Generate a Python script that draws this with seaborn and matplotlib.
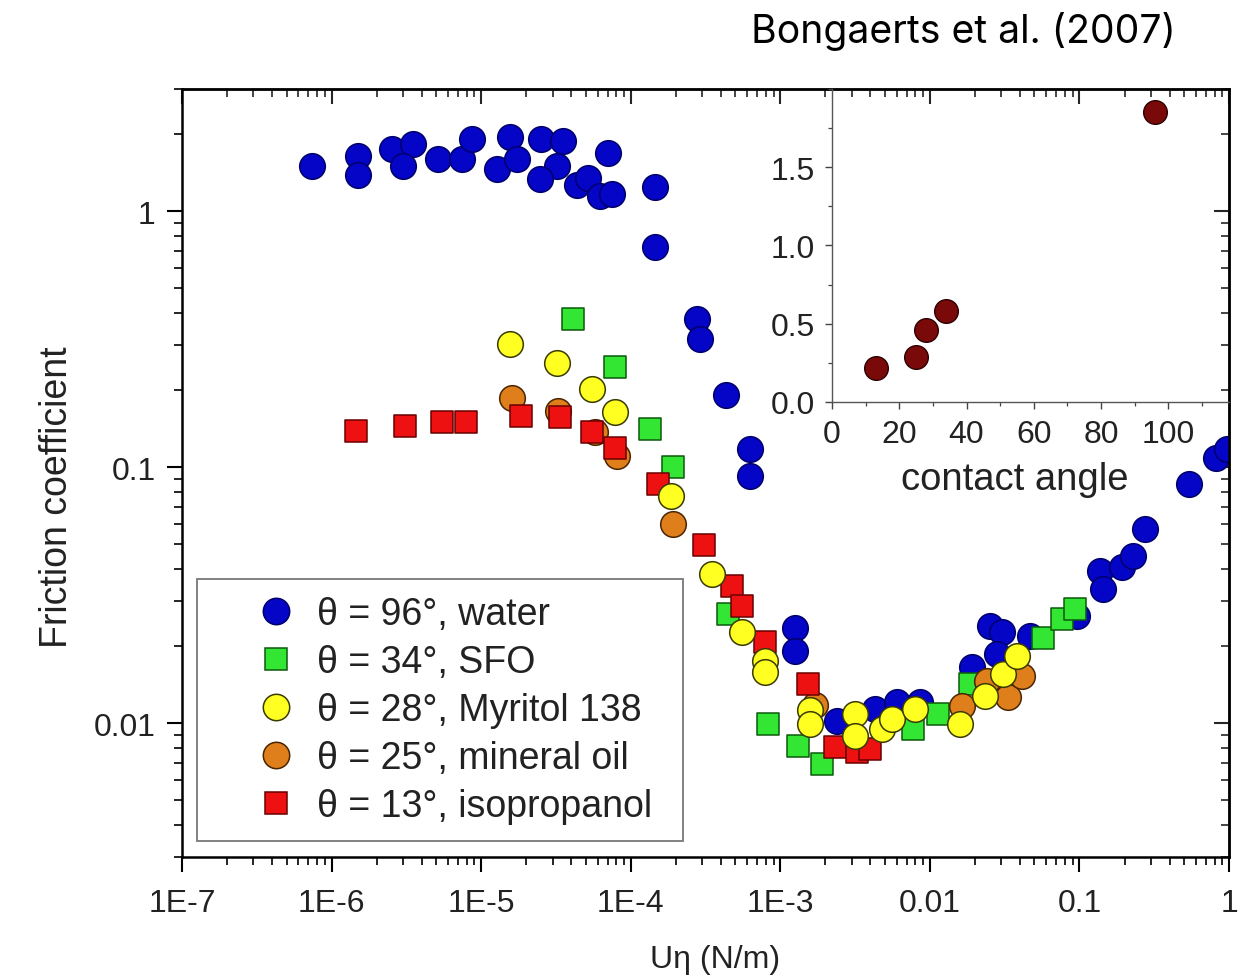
import numpy as np
import pandas as pd
import matplotlib
matplotlib.use("Agg")
import matplotlib.pyplot as plt
import seaborn as sns
from matplotlib.ticker import LogLocator, NullFormatter, FixedLocator, MultipleLocator
from matplotlib.lines import Line2D

# ---------------- data ----------------
water_x = [7.36e-7, 1.49e-6, 1.51e-6, 2.52e-6, 3.52e-6, 2.98e-6, 5.16e-6, 7.41e-6, 8.65e-6, 1.27e-5,
           1.56e-5, 1.74e-5, 2.51e-5, 3.54e-5, 3.20e-5, 2.47e-5, 4.35e-5, 5.20e-5, 6.22e-5, 7.44e-5,
           7.08e-5, 1.45e-4, 1.45e-4, 2.76e-4, 2.90e-4, 4.33e-4, 6.27e-4, 6.27e-4, 1.25e-3, 1.25e-3,
           2.38e-3, 4.28e-3, 5.98e-3, 8.57e-3, 0.0190, 0.0252, 0.0303, 0.0279, 0.0466, 0.0957,
           0.137, 0.143, 0.191, 0.228, 0.273, 0.538, 0.824, 0.962]
water_y = [1.50, 1.64, 1.39, 1.75, 1.83, 1.50, 1.60, 1.60, 1.91, 1.46,
           1.94, 1.60, 1.91, 1.88, 1.50, 1.33, 1.27, 1.35, 1.15, 1.17,
           1.69, 1.24, 0.723, 0.379, 0.318, 0.191, 0.118, 0.0926, 0.0236, 0.0192,
           0.0102, 0.01135, 0.01205, 0.0121, 0.0165, 0.0240, 0.0227, 0.0186, 0.0219, 0.0262,
           0.0394, 0.0334, 0.0406, 0.0450, 0.0573, 0.0858, 0.109, 0.1175]

sfo_x = [4.13e-5, 7.83e-5, 1.34e-4, 1.92e-4, 4.49e-4, 8.30e-4, 1.32e-3, 1.91e-3, 7.73e-3,
         0.01135, 0.0185, 0.0571, 0.0759, 0.0931]
sfo_y = [0.379, 0.245, 0.1407, 0.0997, 0.0267, 0.0099, 0.00815, 0.00692, 0.0095,
         0.01084, 0.0142, 0.0216, 0.0255, 0.0279]

myritol_x = [1.56e-5, 3.20e-5, 5.48e-5, 7.83e-5, 1.87e-4, 3.48e-4, 5.50e-4, 7.88e-4, 7.88e-4, 1.58e-3,
             1.58e-3, 3.16e-3, 3.16e-3, 4.75e-3, 5.55e-3, 7.94e-3, 0.0159, 0.0233, 0.0309, 0.0380]
myritol_y = [0.302, 0.256, 0.202, 0.1636, 0.0773, 0.0382, 0.0226, 0.01747, 0.0158, 0.01124,
             0.0099, 0.01084, 0.0089, 0.0095, 0.01037, 0.01135, 0.0099, 0.0128, 0.01553, 0.01832]

mineral_x = [1.60e-5, 3.27e-5, 5.77e-5, 8.05e-5, 1.92e-4, 1.70e-3, 0.01637, 0.0239, 0.0333, 0.0410]
mineral_y = [0.187, 0.166, 0.1367, 0.1107, 0.0599, 0.01175, 0.01169, 0.01459, 0.0126, 0.0153]

iso_x = [1.46e-6, 3.10e-6, 5.50e-6, 7.87e-6, 1.85e-5, 3.37e-5, 5.48e-5, 7.83e-5, 1.53e-4,
         3.10e-4, 4.72e-4, 5.50e-4, 7.88e-4, 1.54e-3, 2.32e-3, 3.24e-3, 3.97e-3]
iso_y = [0.1386, 0.145, 0.1495, 0.1495, 0.1585, 0.1565, 0.1367, 0.1187, 0.0858,
         0.0496, 0.0344, 0.0287, 0.0207, 0.0142, 0.00804, 0.00769, 0.00791]

series_labels = ["θ = 96°, water", "θ = 34°, SFO", "θ = 28°, Myritol 138",
                 "θ = 25°, mineral oil", "θ = 13°, isopropanol"]

inset_angle = [13, 25, 28, 34, 96]
inset_coef = [0.22, 0.29, 0.46, 0.58, 1.85]

x_tick_values = [1e-7, 1e-6, 1e-5, 1e-4, 1e-3, 1e-2, 1e-1, 1]
x_tick_labels = ["1E-7", "1E-6", "1E-5", "1E-4", "1E-3", "0.01", "0.1", "1"]
y_tick_values = [0.01, 0.1, 1]
y_tick_labels = ["0.01", "0.1", "1"]
inset_xticks = [0, 20, 40, 60, 80, 100]
inset_yticks = [0.0, 0.5, 1.0, 1.5]
inset_ytick_labels = ["0.0", "0.5", "1.0", "1.5"]

# ---------------- style ----------------
sns.set_theme(style="white")
plt.rcParams["font.family"] = ["Liberation Sans", "DejaVu Sans"]

styles = {
    "water":   dict(marker="o", s=340, color="#0505C8", edgecolor="#00006A"),
    "sfo":     dict(marker="s", s=250, color="#33E633", edgecolor="#0B5A0B"),
    "myritol": dict(marker="o", s=340, color="#FFFF22", edgecolor="#3A3A00"),
    "mineral": dict(marker="o", s=340, color="#DE7F1C", edgecolor="#4A2500"),
    "iso":     dict(marker="s", s=250, color="#EE1111", edgecolor="#6A0000"),
}

fig = plt.figure(figsize=(12.53, 9.79), dpi=100)
ax = fig.add_axes([0.1453, 0.1236, 0.8356, 0.7845])

order = [("water", water_x, water_y, 2),
         ("sfo", sfo_x, sfo_y, 3),
         ("mineral", mineral_x, mineral_y, 4),
         ("iso", iso_x, iso_y, 5),
         ("myritol", myritol_x, myritol_y, 6)]
for key, xs, ys, z in order:
    st = styles[key]
    df = pd.DataFrame({"x": xs, "y": ys})
    sns.scatterplot(data=df, x="x", y="y", ax=ax, marker=st["marker"], s=st["s"],
                    color=st["color"], edgecolor=st["edgecolor"], linewidth=1.1,
                    zorder=z, legend=False)

ax.set_xscale("log")
ax.set_yscale("log")
ax.set_xlim(1e-7, 1)
ax.set_ylim(0.003, 3.0)
ax.set_xlabel("")
ax.set_ylabel("")

ax.xaxis.set_major_locator(FixedLocator(x_tick_values))
ax.set_xticklabels(x_tick_labels)
ax.yaxis.set_major_locator(FixedLocator(y_tick_values))
ax.set_yticklabels(y_tick_labels)
ax.xaxis.set_minor_locator(LogLocator(base=10, subs=np.arange(2, 10), numticks=30))
ax.yaxis.set_minor_locator(LogLocator(base=10, subs=np.arange(2, 10), numticks=30))
ax.xaxis.set_minor_formatter(NullFormatter())
ax.yaxis.set_minor_formatter(NullFormatter())

ax.tick_params(which="major", direction="out", length=11, width=1.5, color="black",
               labelsize=23, labelcolor="#222222", pad=8,
               bottom=True, left=True, top=False, right=False)
ax.tick_params(which="minor", direction="out", length=6, width=1.2, color="black",
               bottom=True, left=True, top=False, right=False)
ax.tick_params(axis="x", pad=11)
for sp in ax.spines.values():
    sp.set_color("black")
    sp.set_linewidth(1.8)

# inward ticks on top and right
secx = ax.secondary_xaxis("top")
secx.xaxis.set_major_locator(FixedLocator(x_tick_values))
secx.xaxis.set_minor_locator(LogLocator(base=10, subs=np.arange(2, 10), numticks=30))
secx.tick_params(which="major", direction="in", length=11, width=1.5, labeltop=False)
secx.tick_params(which="minor", direction="in", length=6, width=1.2)
secx.xaxis.set_major_formatter(NullFormatter())
secx.xaxis.set_minor_formatter(NullFormatter())
secx.spines["top"].set_linewidth(1.8)

secy = ax.secondary_yaxis("right")
secy.yaxis.set_major_locator(FixedLocator(y_tick_values))
secy.yaxis.set_minor_locator(LogLocator(base=10, subs=np.arange(2, 10), numticks=30))
secy.tick_params(which="major", direction="in", length=11, width=1.5, labelright=False)
secy.tick_params(which="minor", direction="in", length=6, width=1.2)
secy.yaxis.set_major_formatter(NullFormatter())
secy.yaxis.set_minor_formatter(NullFormatter())
secy.spines["right"].set_linewidth(1.8)

# legend
handles = []
for key in ["water", "sfo", "myritol", "mineral", "iso"]:
    st = styles[key]
    ms = 19 if st["marker"] == "o" else 15.5
    handles.append(Line2D([], [], linestyle="none", marker=st["marker"], markersize=ms,
                          markerfacecolor=st["color"], markeredgecolor=st["edgecolor"],
                          markeredgewidth=1.1))
leg = ax.legend(handles, series_labels, loc="lower left",
                bbox_to_anchor=(0.0143, 0.0208, 0.4642, 0.3), mode="expand",
                borderaxespad=0, fontsize=27, frameon=True, fancybox=False,
                edgecolor="#555555", handlelength=3.3, handletextpad=-0.55,
                borderpad=0.45, labelspacing=0.32, labelcolor="#222222")
leg.get_frame().set_linewidth(1.3)
leg.set_zorder(10)

fig.text(57 / 1253, 1 - 497 / 979, "Friction coefficient", rotation=90,
         ha="center", va="center", fontsize=27, color="#222222")
fig.text(715 / 1253, 1 - 960 / 979, "Uη (N/m)", ha="center", va="center",
         fontsize=23, color="#222222")
fig.text(1176 / 1253, 1 - 43 / 979, "Bongaerts et al. (2007)", ha="right", va="baseline",
         fontsize=28.2, family=["Inter", "DejaVu Sans"], color="black")

# ---------------- inset ----------------
ins = fig.add_axes([0.6640, 0.5884, 0.3168, 0.3197])
ins.patch.set_alpha(0)
df_in = pd.DataFrame({"angle": inset_angle, "coef": inset_coef})
sns.scatterplot(data=df_in, x="angle", y="coef", ax=ins, marker="o", s=290,
                color="#7A0A0A", edgecolor="#2E0000", linewidth=1.0, legend=False, zorder=3)
ins.set_xlim(0, 118)
ins.set_ylim(0, 2.0)
ins.set_xticks(inset_xticks)
ins.set_yticks(inset_yticks)
ins.set_yticklabels(inset_ytick_labels)
ins.xaxis.set_minor_locator(MultipleLocator(10))
ins.yaxis.set_minor_locator(MultipleLocator(0.25))
ins.tick_params(which="major", direction="out", length=5, width=1.0, color="#444444",
                labelsize=23, labelcolor="#222222", pad=7,
                bottom=True, left=True, top=False, right=False)
ins.tick_params(which="minor", direction="out", length=3, width=0.9, color="#444444",
                bottom=True, left=True)
ins.set_xlabel("contact angle", fontsize=27.5, color="#222222")
ins.xaxis.set_label_coords(0.461, -0.19)
ins.set_ylabel("")
for side in ["top", "right"]:
    ins.spines[side].set_visible(False)
for side in ["left", "bottom"]:
    ins.spines[side].set_color("#555555")
    ins.spines[side].set_linewidth(1.0)

fig.savefig("out.png", dpi=100)
